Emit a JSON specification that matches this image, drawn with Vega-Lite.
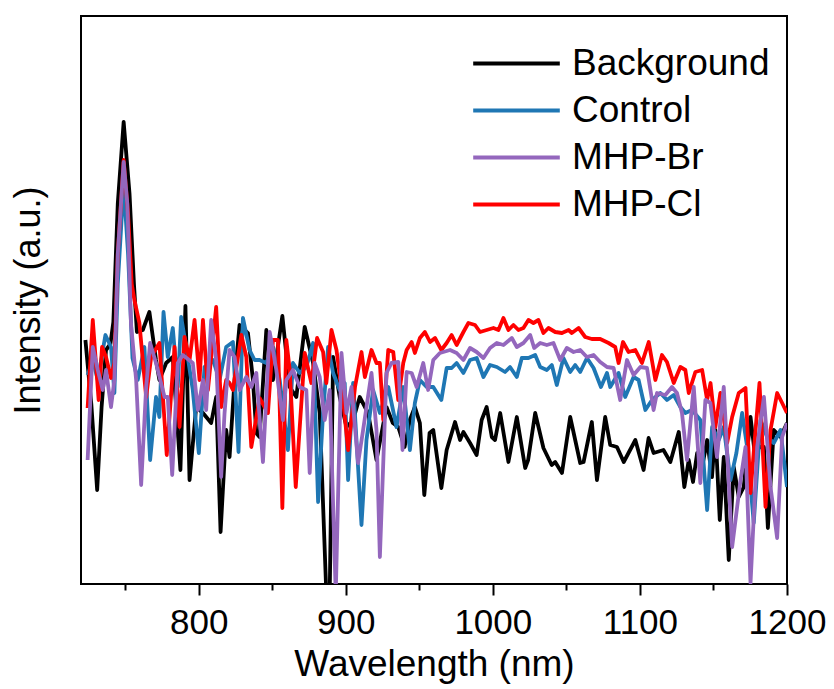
{
  "$schema": "https://vega.github.io/schema/vega-lite/v6.json",
  "width": 706,
  "height": 568,
  "autosize": {"type": "none"},
  "padding": {"left": 81, "top": 16, "right": 47, "bottom": 105},
  "config": {
    "view": {"stroke": "black", "strokeWidth": 2},
    "font": "Liberation Sans",
    "legend": {"padding": 0}
  },
  "data": {"values": [
    {"s":"Background","x":723,"y":244},{"s":"Background","x":727,"y":180},{"s":"Background","x":731,"y":94},{"s":"Background","x":734,"y":177},{"s":"Background","x":737,"y":234},{"s":"Background","x":740,"y":240},{"s":"Background","x":742,"y":262},{"s":"Background","x":745,"y":380},{"s":"Background","x":749,"y":462},{"s":"Background","x":753,"y":390},{"s":"Background","x":756,"y":300},{"s":"Background","x":758,"y":252},{"s":"Background","x":762,"y":254},{"s":"Background","x":766.5,"y":272},{"s":"Background","x":771,"y":224},{"s":"Background","x":773.3,"y":204},{"s":"Background","x":777.9,"y":221},{"s":"Background","x":782.4,"y":227},{"s":"Background","x":787.6,"y":114},{"s":"Background","x":791,"y":278},{"s":"Background","x":793.8,"y":104},{"s":"Background","x":798.3,"y":177},{"s":"Background","x":802.9,"y":171},{"s":"Background","x":808.5,"y":161},{"s":"Background","x":811.9,"y":187},{"s":"Background","x":814.9,"y":52},{"s":"Background","x":818.7,"y":154},{"s":"Background","x":821,"y":127},{"s":"Background","x":824.4,"y":204},{"s":"Background","x":827.8,"y":259},{"s":"Background","x":833.5,"y":251},{"s":"Background","x":836.9,"y":204},{"s":"Background","x":839.2,"y":151},{"s":"Background","x":841.4,"y":147},{"s":"Background","x":846,"y":254},{"s":"Background","x":850.5,"y":204},{"s":"Background","x":856.9,"y":268},{"s":"Background","x":861.9,"y":197},{"s":"Background","x":866.4,"y":187},{"s":"Background","x":872.1,"y":257},{"s":"Background","x":877.8,"y":221},{"s":"Background","x":882.3,"y":171},{"s":"Background","x":886.8,"y":-10},{"s":"Background","x":889.1,"y":-10},{"s":"Background","x":891.4,"y":227},{"s":"Background","x":895.9,"y":187},{"s":"Background","x":900.5,"y":157},{"s":"Background","x":905,"y":164},{"s":"Background","x":909.5,"y":187},{"s":"Background","x":915.2,"y":171},{"s":"Background","x":920.9,"y":124},{"s":"Background","x":927.7,"y":177},{"s":"Background","x":932,"y":161},{"s":"Background","x":935.7,"y":157},{"s":"Background","x":940,"y":137},{"s":"Background","x":943.6,"y":164},{"s":"Background","x":947,"y":177},{"s":"Background","x":950.4,"y":161},{"s":"Background","x":953.4,"y":89},{"s":"Background","x":957,"y":151},{"s":"Background","x":959.5,"y":154},{"s":"Background","x":965,"y":96},{"s":"Background","x":968.6,"y":134},{"s":"Background","x":974.3,"y":162},{"s":"Background","x":977.7,"y":144},{"s":"Background","x":980,"y":152},{"s":"Background","x":984.5,"y":141},{"s":"Background","x":989,"y":129},{"s":"Background","x":992.4,"y":164},{"s":"Background","x":995.8,"y":177},{"s":"Background","x":999.3,"y":147},{"s":"Background","x":1001.5,"y":144},{"s":"Background","x":1005,"y":171},{"s":"Background","x":1010.6,"y":122},{"s":"Background","x":1016.3,"y":167},{"s":"Background","x":1022,"y":116},{"s":"Background","x":1024,"y":124},{"s":"Background","x":1028.8,"y":171},{"s":"Background","x":1034.4,"y":136},{"s":"Background","x":1040,"y":119},{"s":"Background","x":1042.4,"y":122},{"s":"Background","x":1047,"y":111},{"s":"Background","x":1052.6,"y":167},{"s":"Background","x":1059.4,"y":121},{"s":"Background","x":1061.7,"y":122},{"s":"Background","x":1067.3,"y":162},{"s":"Background","x":1070.8,"y":104},{"s":"Background","x":1076.4,"y":167},{"s":"Background","x":1079.8,"y":139},{"s":"Background","x":1084.4,"y":137},{"s":"Background","x":1089,"y":122},{"s":"Background","x":1096.9,"y":144},{"s":"Background","x":1102.5,"y":114},{"s":"Background","x":1105.9,"y":146},{"s":"Background","x":1109.3,"y":131},{"s":"Background","x":1116,"y":134},{"s":"Background","x":1120.7,"y":122},{"s":"Background","x":1126.4,"y":152},{"s":"Background","x":1130.2,"y":97},{"s":"Background","x":1133.2,"y":124},{"s":"Background","x":1136.1,"y":102},{"s":"Background","x":1138.9,"y":131},{"s":"Background","x":1142.3,"y":117},{"s":"Background","x":1145.7,"y":144},{"s":"Background","x":1149,"y":107},{"s":"Background","x":1151.3,"y":154},{"s":"Background","x":1154.3,"y":64},{"s":"Background","x":1157,"y":127},{"s":"Background","x":1160.4,"y":24},{"s":"Background","x":1163.8,"y":117},{"s":"Background","x":1167.2,"y":87},{"s":"Background","x":1170.6,"y":97},{"s":"Background","x":1175.2,"y":167},{"s":"Background","x":1178.6,"y":124},{"s":"Background","x":1180.9,"y":137},{"s":"Background","x":1184.3,"y":137},{"s":"Background","x":1187,"y":56},{"s":"Background","x":1191,"y":154},{"s":"Background","x":1195.6,"y":147},{"s":"Background","x":1200,"y":161},

    {"s":"Control","x":724.5,"y":209},{"s":"Control","x":728,"y":224},{"s":"Control","x":731.4,"y":204},{"s":"Control","x":736.6,"y":249},{"s":"Control","x":740.4,"y":237},{"s":"Control","x":742.7,"y":191},{"s":"Control","x":745,"y":300},{"s":"Control","x":749,"y":399},{"s":"Control","x":752,"y":330},{"s":"Control","x":755,"y":226},{"s":"Control","x":758.6,"y":204},{"s":"Control","x":763.1,"y":237},{"s":"Control","x":767,"y":124},{"s":"Control","x":771,"y":187},{"s":"Control","x":773.3,"y":167},{"s":"Control","x":776.1,"y":272},{"s":"Control","x":779,"y":227},{"s":"Control","x":782.4,"y":256},{"s":"Control","x":785.8,"y":197},{"s":"Control","x":788.1,"y":267},{"s":"Control","x":791.5,"y":237},{"s":"Control","x":796,"y":194},{"s":"Control","x":800.1,"y":131},{"s":"Control","x":804,"y":217},{"s":"Control","x":809.7,"y":224},{"s":"Control","x":814.2,"y":204},{"s":"Control","x":818.7,"y":237},{"s":"Control","x":823.3,"y":242},{"s":"Control","x":827.1,"y":132},{"s":"Control","x":830.1,"y":266},{"s":"Control","x":834.6,"y":234},{"s":"Control","x":838,"y":224},{"s":"Control","x":841.4,"y":224},{"s":"Control","x":846,"y":221},{"s":"Control","x":850.5,"y":237},{"s":"Control","x":855.1,"y":204},{"s":"Control","x":860.7,"y":134},{"s":"Control","x":864.1,"y":221},{"s":"Control","x":868.7,"y":211},{"s":"Control","x":873.2,"y":217},{"s":"Control","x":877.8,"y":241},{"s":"Control","x":881.2,"y":82},{"s":"Control","x":884.6,"y":171},{"s":"Control","x":888,"y":237},{"s":"Control","x":891.4,"y":211},{"s":"Control","x":895.9,"y":194},{"s":"Control","x":899.3,"y":201},{"s":"Control","x":901.6,"y":104},{"s":"Control","x":905,"y":201},{"s":"Control","x":910.7,"y":59},{"s":"Control","x":914.1,"y":144},{"s":"Control","x":918.6,"y":194},{"s":"Control","x":923.2,"y":171},{"s":"Control","x":928.9,"y":197},{"s":"Control","x":934.5,"y":157},{"s":"Control","x":939.1,"y":197},{"s":"Control","x":943.6,"y":134},{"s":"Control","x":947,"y":181},{"s":"Control","x":950.4,"y":204},{"s":"Control","x":955,"y":197},{"s":"Control","x":959.5,"y":197},{"s":"Control","x":965,"y":184},{"s":"Control","x":968.6,"y":216},{"s":"Control","x":972,"y":216},{"s":"Control","x":975.4,"y":221},{"s":"Control","x":980,"y":211},{"s":"Control","x":984.5,"y":224},{"s":"Control","x":989,"y":226},{"s":"Control","x":993.6,"y":207},{"s":"Control","x":998.1,"y":219},{"s":"Control","x":1002.7,"y":217},{"s":"Control","x":1008.3,"y":212},{"s":"Control","x":1011.7,"y":217},{"s":"Control","x":1016.3,"y":207},{"s":"Control","x":1019.7,"y":226},{"s":"Control","x":1024.2,"y":226},{"s":"Control","x":1028.8,"y":229},{"s":"Control","x":1032.2,"y":217},{"s":"Control","x":1036.7,"y":214},{"s":"Control","x":1040.1,"y":219},{"s":"Control","x":1043.5,"y":199},{"s":"Control","x":1048,"y":226},{"s":"Control","x":1052.6,"y":212},{"s":"Control","x":1056,"y":219},{"s":"Control","x":1059.4,"y":212},{"s":"Control","x":1064,"y":226},{"s":"Control","x":1068.5,"y":216},{"s":"Control","x":1073.5,"y":197},{"s":"Control","x":1077.6,"y":211},{"s":"Control","x":1079.8,"y":197},{"s":"Control","x":1085.5,"y":211},{"s":"Control","x":1090,"y":187},{"s":"Control","x":1095.7,"y":207},{"s":"Control","x":1099.1,"y":204},{"s":"Control","x":1103.7,"y":174},{"s":"Control","x":1108.2,"y":184},{"s":"Control","x":1113.9,"y":191},{"s":"Control","x":1118.4,"y":184},{"s":"Control","x":1123,"y":189},{"s":"Control","x":1127.5,"y":177},{"s":"Control","x":1130.9,"y":171},{"s":"Control","x":1135.4,"y":174},{"s":"Control","x":1141.1,"y":164},{"s":"Control","x":1145.7,"y":74},{"s":"Control","x":1149.1,"y":157},{"s":"Control","x":1153.6,"y":144},{"s":"Control","x":1157,"y":157},{"s":"Control","x":1161.6,"y":104},{"s":"Control","x":1165.6,"y":131},{"s":"Control","x":1169.5,"y":171},{"s":"Control","x":1172.9,"y":137},{"s":"Control","x":1177.4,"y":61},{"s":"Control","x":1182,"y":164},{"s":"Control","x":1186.5,"y":147},{"s":"Control","x":1191,"y":141},{"s":"Control","x":1195.6,"y":154},{"s":"Control","x":1200,"y":97},

    {"s":"MHP-Cl","x":724.5,"y":176},{"s":"MHP-Cl","x":728,"y":264},{"s":"MHP-Cl","x":732,"y":184},{"s":"MHP-Cl","x":734.3,"y":237},{"s":"MHP-Cl","x":737,"y":227},{"s":"MHP-Cl","x":740.4,"y":206},{"s":"MHP-Cl","x":742.7,"y":221},{"s":"MHP-Cl","x":745,"y":330},{"s":"MHP-Cl","x":749,"y":424},{"s":"MHP-Cl","x":752,"y":370},{"s":"MHP-Cl","x":754.5,"y":300},{"s":"MHP-Cl","x":756.3,"y":284},{"s":"MHP-Cl","x":759.7,"y":261},{"s":"MHP-Cl","x":764.3,"y":187},{"s":"MHP-Cl","x":767.7,"y":227},{"s":"MHP-Cl","x":773.3,"y":241},{"s":"MHP-Cl","x":778.3,"y":129},{"s":"MHP-Cl","x":783.6,"y":237},{"s":"MHP-Cl","x":787,"y":157},{"s":"MHP-Cl","x":790.4,"y":247},{"s":"MHP-Cl","x":793.8,"y":224},{"s":"MHP-Cl","x":797.2,"y":264},{"s":"MHP-Cl","x":800.6,"y":204},{"s":"MHP-Cl","x":802.9,"y":264},{"s":"MHP-Cl","x":806.3,"y":194},{"s":"MHP-Cl","x":811.9,"y":277},{"s":"MHP-Cl","x":815.3,"y":177},{"s":"MHP-Cl","x":818.7,"y":204},{"s":"MHP-Cl","x":821,"y":201},{"s":"MHP-Cl","x":823.3,"y":194},{"s":"MHP-Cl","x":829,"y":249},{"s":"MHP-Cl","x":832.4,"y":227},{"s":"MHP-Cl","x":835.8,"y":137},{"s":"MHP-Cl","x":841.4,"y":186},{"s":"MHP-Cl","x":847.1,"y":171},{"s":"MHP-Cl","x":850.5,"y":244},{"s":"MHP-Cl","x":853.9,"y":244},{"s":"MHP-Cl","x":856.9,"y":76},{"s":"MHP-Cl","x":859.6,"y":244},{"s":"MHP-Cl","x":861.9,"y":214},{"s":"MHP-Cl","x":866,"y":97},{"s":"MHP-Cl","x":872.1,"y":231},{"s":"MHP-Cl","x":876.6,"y":201},{"s":"MHP-Cl","x":880.5,"y":246},{"s":"MHP-Cl","x":884.6,"y":232},{"s":"MHP-Cl","x":886.8,"y":201},{"s":"MHP-Cl","x":890.3,"y":254},{"s":"MHP-Cl","x":893.7,"y":234},{"s":"MHP-Cl","x":898.2,"y":184},{"s":"MHP-Cl","x":901.6,"y":134},{"s":"MHP-Cl","x":906.3,"y":197},{"s":"MHP-Cl","x":910.7,"y":232},{"s":"MHP-Cl","x":913,"y":207},{"s":"MHP-Cl","x":917.5,"y":234},{"s":"MHP-Cl","x":920.9,"y":221},{"s":"MHP-Cl","x":923.2,"y":221},{"s":"MHP-Cl","x":925.5,"y":164},{"s":"MHP-Cl","x":928.9,"y":234},{"s":"MHP-Cl","x":932.3,"y":232},{"s":"MHP-Cl","x":935.7,"y":184},{"s":"MHP-Cl","x":939.1,"y":221},{"s":"MHP-Cl","x":941.4,"y":234},{"s":"MHP-Cl","x":944.8,"y":242},{"s":"MHP-Cl","x":947,"y":231},{"s":"MHP-Cl","x":950.4,"y":246},{"s":"MHP-Cl","x":953.8,"y":252},{"s":"MHP-Cl","x":957.3,"y":242},{"s":"MHP-Cl","x":960.7,"y":246},{"s":"MHP-Cl","x":965,"y":234},{"s":"MHP-Cl","x":968.6,"y":241},{"s":"MHP-Cl","x":972,"y":249},{"s":"MHP-Cl","x":975.4,"y":239},{"s":"MHP-Cl","x":980,"y":252},{"s":"MHP-Cl","x":983.4,"y":261},{"s":"MHP-Cl","x":987.9,"y":259},{"s":"MHP-Cl","x":991.3,"y":252},{"s":"MHP-Cl","x":995.8,"y":254},{"s":"MHP-Cl","x":1000.4,"y":256},{"s":"MHP-Cl","x":1003.8,"y":254},{"s":"MHP-Cl","x":1007.2,"y":266},{"s":"MHP-Cl","x":1010.6,"y":254},{"s":"MHP-Cl","x":1014,"y":259},{"s":"MHP-Cl","x":1017.4,"y":254},{"s":"MHP-Cl","x":1020.8,"y":256},{"s":"MHP-Cl","x":1024.2,"y":264},{"s":"MHP-Cl","x":1027.6,"y":261},{"s":"MHP-Cl","x":1031,"y":264},{"s":"MHP-Cl","x":1034.4,"y":251},{"s":"MHP-Cl","x":1037.8,"y":256},{"s":"MHP-Cl","x":1042.4,"y":252},{"s":"MHP-Cl","x":1047,"y":251},{"s":"MHP-Cl","x":1051.5,"y":254},{"s":"MHP-Cl","x":1053.7,"y":251},{"s":"MHP-Cl","x":1058.3,"y":256},{"s":"MHP-Cl","x":1062.8,"y":247},{"s":"MHP-Cl","x":1067.3,"y":245},{"s":"MHP-Cl","x":1073,"y":245},{"s":"MHP-Cl","x":1078.7,"y":241},{"s":"MHP-Cl","x":1083.2,"y":237},{"s":"MHP-Cl","x":1085.5,"y":221},{"s":"MHP-Cl","x":1088.5,"y":242},{"s":"MHP-Cl","x":1092.3,"y":232},{"s":"MHP-Cl","x":1096.9,"y":234},{"s":"MHP-Cl","x":1101.4,"y":221},{"s":"MHP-Cl","x":1106,"y":242},{"s":"MHP-Cl","x":1110.5,"y":204},{"s":"MHP-Cl","x":1115,"y":229},{"s":"MHP-Cl","x":1118.4,"y":222},{"s":"MHP-Cl","x":1123,"y":201},{"s":"MHP-Cl","x":1127.5,"y":217},{"s":"MHP-Cl","x":1130.9,"y":214},{"s":"MHP-Cl","x":1133.2,"y":191},{"s":"MHP-Cl","x":1137.7,"y":212},{"s":"MHP-Cl","x":1142.3,"y":214},{"s":"MHP-Cl","x":1145.7,"y":184},{"s":"MHP-Cl","x":1148,"y":201},{"s":"MHP-Cl","x":1151.3,"y":157},{"s":"MHP-Cl","x":1154.7,"y":191},{"s":"MHP-Cl","x":1159.3,"y":141},{"s":"MHP-Cl","x":1162.7,"y":167},{"s":"MHP-Cl","x":1167.2,"y":191},{"s":"MHP-Cl","x":1171.8,"y":196},{"s":"MHP-Cl","x":1175.2,"y":91},{"s":"MHP-Cl","x":1178.6,"y":154},{"s":"MHP-Cl","x":1181.3,"y":201},{"s":"MHP-Cl","x":1185.4,"y":77},{"s":"MHP-Cl","x":1188.8,"y":154},{"s":"MHP-Cl","x":1193.3,"y":191},{"s":"MHP-Cl","x":1196.7,"y":181},{"s":"MHP-Cl","x":1200,"y":171},

    {"s":"MHP-Br","x":724.5,"y":124},{"s":"MHP-Br","x":728,"y":237},{"s":"MHP-Br","x":731.4,"y":214},{"s":"MHP-Br","x":734.8,"y":194},{"s":"MHP-Br","x":737,"y":214},{"s":"MHP-Br","x":740.4,"y":177},{"s":"MHP-Br","x":742.7,"y":204},{"s":"MHP-Br","x":745,"y":330},{"s":"MHP-Br","x":749,"y":422},{"s":"MHP-Br","x":751.5,"y":380},{"s":"MHP-Br","x":754,"y":260},{"s":"MHP-Br","x":757.5,"y":204},{"s":"MHP-Br","x":760.9,"y":99},{"s":"MHP-Br","x":764.3,"y":197},{"s":"MHP-Br","x":767,"y":241},{"s":"MHP-Br","x":771,"y":221},{"s":"MHP-Br","x":776.8,"y":187},{"s":"MHP-Br","x":779,"y":187},{"s":"MHP-Br","x":782,"y":109},{"s":"MHP-Br","x":785.8,"y":221},{"s":"MHP-Br","x":789.2,"y":229},{"s":"MHP-Br","x":796,"y":221},{"s":"MHP-Br","x":799.5,"y":174},{"s":"MHP-Br","x":802.9,"y":204},{"s":"MHP-Br","x":805.1,"y":174},{"s":"MHP-Br","x":808.5,"y":264},{"s":"MHP-Br","x":811.9,"y":224},{"s":"MHP-Br","x":815.3,"y":107},{"s":"MHP-Br","x":817.6,"y":171},{"s":"MHP-Br","x":821,"y":234},{"s":"MHP-Br","x":824.4,"y":227},{"s":"MHP-Br","x":827.8,"y":194},{"s":"MHP-Br","x":832.4,"y":207},{"s":"MHP-Br","x":835.8,"y":197},{"s":"MHP-Br","x":839.2,"y":211},{"s":"MHP-Br","x":843.7,"y":122},{"s":"MHP-Br","x":848.3,"y":252},{"s":"MHP-Br","x":852.8,"y":214},{"s":"MHP-Br","x":857.3,"y":164},{"s":"MHP-Br","x":859.6,"y":204},{"s":"MHP-Br","x":864.1,"y":214},{"s":"MHP-Br","x":868.7,"y":197},{"s":"MHP-Br","x":873.2,"y":194},{"s":"MHP-Br","x":875.5,"y":111},{"s":"MHP-Br","x":878.9,"y":221},{"s":"MHP-Br","x":882.3,"y":207},{"s":"MHP-Br","x":885.7,"y":164},{"s":"MHP-Br","x":889.1,"y":194},{"s":"MHP-Br","x":893.2,"y":-10},{"s":"MHP-Br","x":897.1,"y":231},{"s":"MHP-Br","x":900.5,"y":171},{"s":"MHP-Br","x":903.9,"y":197},{"s":"MHP-Br","x":908.4,"y":121},{"s":"MHP-Br","x":911.8,"y":154},{"s":"MHP-Br","x":917.5,"y":211},{"s":"MHP-Br","x":920.9,"y":154},{"s":"MHP-Br","x":923.2,"y":27},{"s":"MHP-Br","x":927.7,"y":211},{"s":"MHP-Br","x":931.1,"y":221},{"s":"MHP-Br","x":935.7,"y":222},{"s":"MHP-Br","x":938.6,"y":134},{"s":"MHP-Br","x":941.4,"y":212},{"s":"MHP-Br","x":944.8,"y":211},{"s":"MHP-Br","x":948.2,"y":197},{"s":"MHP-Br","x":952.7,"y":221},{"s":"MHP-Br","x":956,"y":194},{"s":"MHP-Br","x":959.5,"y":224},{"s":"MHP-Br","x":964,"y":231},{"s":"MHP-Br","x":970.9,"y":234},{"s":"MHP-Br","x":975.4,"y":231},{"s":"MHP-Br","x":980,"y":224},{"s":"MHP-Br","x":984.5,"y":236},{"s":"MHP-Br","x":989,"y":232},{"s":"MHP-Br","x":993.6,"y":226},{"s":"MHP-Br","x":998.1,"y":236},{"s":"MHP-Br","x":1002.7,"y":241},{"s":"MHP-Br","x":1007.2,"y":239},{"s":"MHP-Br","x":1012.9,"y":246},{"s":"MHP-Br","x":1016.3,"y":237},{"s":"MHP-Br","x":1020.8,"y":241},{"s":"MHP-Br","x":1025.4,"y":249},{"s":"MHP-Br","x":1028.1,"y":236},{"s":"MHP-Br","x":1032.2,"y":241},{"s":"MHP-Br","x":1036.7,"y":239},{"s":"MHP-Br","x":1041.2,"y":241},{"s":"MHP-Br","x":1045.8,"y":224},{"s":"MHP-Br","x":1050.3,"y":236},{"s":"MHP-Br","x":1054.9,"y":232},{"s":"MHP-Br","x":1059.4,"y":234},{"s":"MHP-Br","x":1063.9,"y":227},{"s":"MHP-Br","x":1068.5,"y":229},{"s":"MHP-Br","x":1073,"y":222},{"s":"MHP-Br","x":1077.6,"y":217},{"s":"MHP-Br","x":1082.1,"y":216},{"s":"MHP-Br","x":1086.6,"y":184},{"s":"MHP-Br","x":1091.2,"y":224},{"s":"MHP-Br","x":1095.7,"y":209},{"s":"MHP-Br","x":1100.3,"y":217},{"s":"MHP-Br","x":1104.8,"y":216},{"s":"MHP-Br","x":1109.3,"y":174},{"s":"MHP-Br","x":1111.6,"y":191},{"s":"MHP-Br","x":1117.3,"y":189},{"s":"MHP-Br","x":1121.8,"y":197},{"s":"MHP-Br","x":1125.2,"y":191},{"s":"MHP-Br","x":1128.6,"y":171},{"s":"MHP-Br","x":1132,"y":124},{"s":"MHP-Br","x":1136.6,"y":197},{"s":"MHP-Br","x":1141.1,"y":101},{"s":"MHP-Br","x":1144.5,"y":184},{"s":"MHP-Br","x":1147.9,"y":181},{"s":"MHP-Br","x":1152.4,"y":127},{"s":"MHP-Br","x":1157,"y":197},{"s":"MHP-Br","x":1162.7,"y":37},{"s":"MHP-Br","x":1168.4,"y":104},{"s":"MHP-Br","x":1171.8,"y":137},{"s":"MHP-Br","x":1175.2,"y":1},{"s":"MHP-Br","x":1179.7,"y":137},{"s":"MHP-Br","x":1184.3,"y":187},{"s":"MHP-Br","x":1188.8,"y":97},{"s":"MHP-Br","x":1193.3,"y":46},{"s":"MHP-Br","x":1196.7,"y":147},{"s":"MHP-Br","x":1200,"y":161}
  ]},
  "mark": {"type": "line", "strokeWidth": 3.8, "clip": true, "strokeJoin": "round"},
  "encoding": {
    "x": {
      "field": "x", "type": "quantitative",
      "scale": {"domain": [720, 1200], "nice": false, "zero": false},
      "axis": {
        "values": [750, 800, 850, 900, 950, 1000, 1050, 1100, 1150, 1200],
        "labelExpr": "datum.value % 100 === 0 ? format(datum.value, 'd') : ''",
        "domain": false, "grid": false,
        "tickColor": "black", "tickWidth": 2,
        "tickSize": {"condition": {"test": "datum.value % 100 === 0", "value": 11}, "value": 6},
        "labelFontSize": 35, "labelColor": "black", "labelPadding": 10,
        "labelFlush": false, "labelOverlap": false,
        "title": "Wavelength (nm)", "titleFontSize": 37, "titleFontWeight": "normal",
        "titleColor": "black", "titlePadding": 6
      }
    },
    "y": {
      "field": "y", "type": "quantitative",
      "scale": {"domain": [0, 568], "nice": false},
      "axis": {
        "ticks": false, "labels": false, "domain": false, "grid": false,
        "title": "Intensity (a.u.)", "titleFontSize": 36, "titleFontWeight": "normal",
        "titleColor": "black", "titlePadding": 34
      }
    },
    "color": {
      "field": "s", "type": "nominal",
      "scale": {
        "domain": ["Background", "Control", "MHP-Br", "MHP-Cl"],
        "range": ["#000000", "#1f77b4", "#9467bd", "#ff0000"]
      },
      "legend": {
        "title": null, "orient": "none", "legendX": 417, "legendY": 29,
        "symbolType": "M-5,0H5", "symbolSize": 300, "symbolStrokeWidth": 4,
        "labelFontSize": 37, "labelColor": "black", "labelOffset": 37,
        "rowPadding": 9, "labelBaseline": "middle", "labelLimit": 400
      }
    }
  }
}
